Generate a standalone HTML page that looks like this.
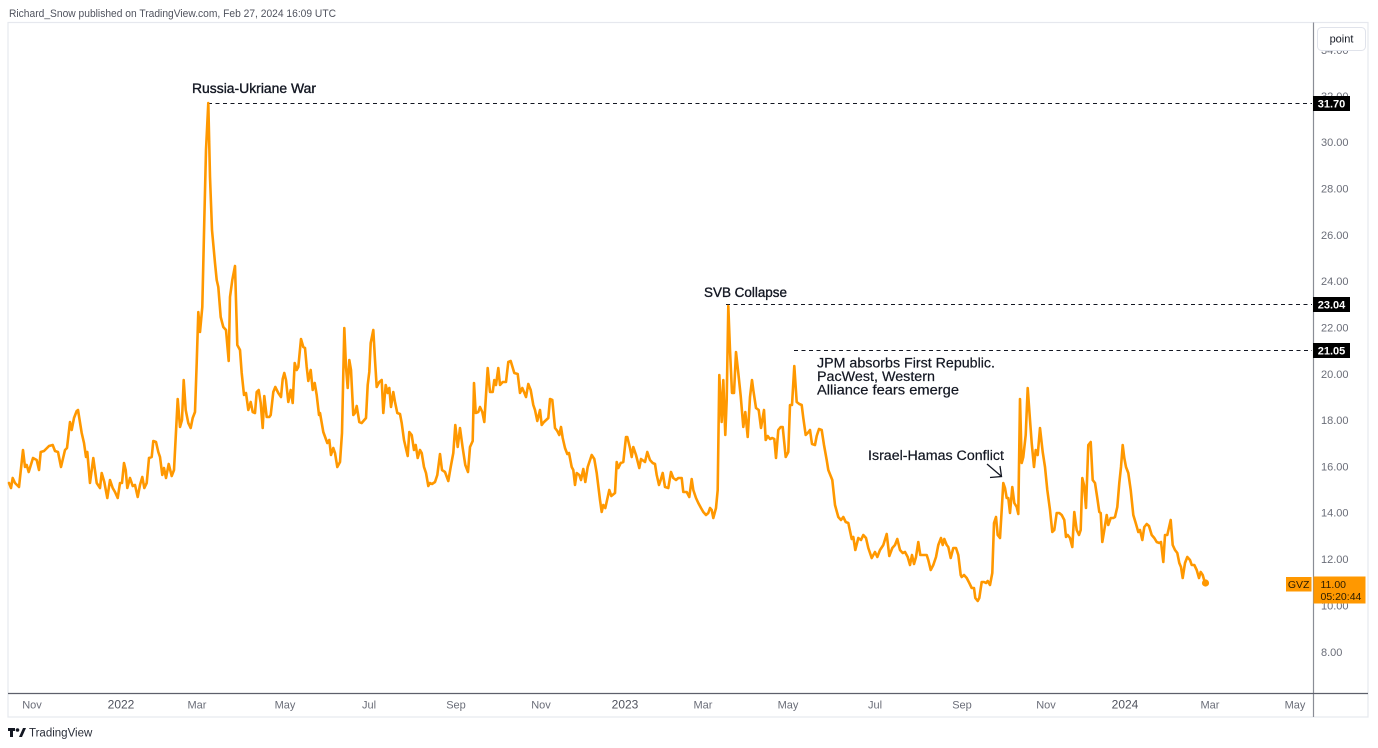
<!DOCTYPE html>
<html><head><meta charset="utf-8"><style>
html,body{margin:0;padding:0;background:#fff;}
svg{display:block;font-family:"Liberation Sans",Arial,sans-serif;}
</style></head><body>
<svg width="1378" height="748" viewBox="0 0 1378 748" xmlns="http://www.w3.org/2000/svg">
<rect width="1378" height="748" fill="#fff"/>
<text x="9" y="17" font-size="11" fill="#50535e" textLength="327" lengthAdjust="spacingAndGlyphs">Richard_Snow published on TradingView.com, Feb 27, 2024 16:09 UTC</text>
<!-- frame -->
<rect x="8" y="22.5" width="1360" height="694.5" fill="none" stroke="#e6e8ee" stroke-width="1.2"/>
<line x1="1313.5" y1="22.5" x2="1313.5" y2="717" stroke="#8a8d96" stroke-width="1.2"/>
<line x1="8" y1="693.5" x2="1368" y2="693.5" stroke="#5d606b" stroke-width="1.2"/>
<!-- y axis labels -->
<g font-size="11" fill="#6a6d78">
<text x="1321" y="54">34.00</text>
<text x="1321" y="100">32.00</text>
<text x="1321" y="146">30.00</text>
<text x="1321" y="192.5">28.00</text>
<text x="1321" y="239">26.00</text>
<text x="1321" y="285">24.00</text>
<text x="1321" y="331.5">22.00</text>
<text x="1321" y="378">20.00</text>
<text x="1321" y="424">18.00</text>
<text x="1321" y="470.5">16.00</text>
<text x="1321" y="516.5">14.00</text>
<text x="1321" y="563">12.00</text>
<text x="1321" y="609.5">10.00</text>
<text x="1321" y="656">8.00</text>
</g>
<rect x="1317.5" y="27.5" width="48" height="23" rx="4" fill="#fff" stroke="#e0e3eb"/>
<text x="1341.5" y="42.5" font-size="11" fill="#131722" text-anchor="middle">point</text>
<!-- x axis labels -->
<g font-size="11" fill="#6a6d78" text-anchor="middle">
<text x="32" y="708.5">Nov</text>
<text x="121" y="708.5" font-size="12" fill="#50535e">2022</text>
<text x="197" y="708.5">Mar</text>
<text x="285" y="708.5">May</text>
<text x="369" y="708.5">Jul</text>
<text x="456" y="708.5">Sep</text>
<text x="541" y="708.5">Nov</text>
<text x="625" y="708.5" font-size="12" fill="#50535e">2023</text>
<text x="703" y="708.5">Mar</text>
<text x="788" y="708.5">May</text>
<text x="875" y="708.5">Jul</text>
<text x="962" y="708.5">Sep</text>
<text x="1046" y="708.5">Nov</text>
<text x="1125" y="708.5" font-size="12" fill="#50535e">2024</text>
<text x="1210" y="708.5">Mar</text>
<text x="1295" y="708.5">May</text>
</g>
<!-- dashed lines -->
<g stroke="#131722" stroke-width="1" stroke-dasharray="4 3.5">
<line x1="208" y1="103.5" x2="1312" y2="103.5"/>
<line x1="726" y1="304.5" x2="1312" y2="304.5"/>
<line x1="794" y1="350.5" x2="1312" y2="350.5"/>
</g>
<!-- price tags -->
<rect x="1313" y="96" width="37" height="15" fill="#000"/>
<text x="1331.5" y="107.5" font-size="11" font-weight="bold" fill="#fff" text-anchor="middle">31.70</text>
<rect x="1313" y="297" width="37" height="15" fill="#000"/>
<text x="1331.5" y="308.5" font-size="11" font-weight="bold" fill="#fff" text-anchor="middle">23.04</text>
<rect x="1313" y="343" width="37" height="15" fill="#000"/>
<text x="1331.5" y="354.5" font-size="11" font-weight="bold" fill="#fff" text-anchor="middle">21.05</text>
<!-- annotations -->
<g font-size="13.5" fill="#131722">
<text x="192" y="93" stroke="#131722" stroke-width="0.35" textLength="124" lengthAdjust="spacingAndGlyphs">Russia-Ukriane War</text>
<text x="704" y="297" stroke="#131722" stroke-width="0.35" textLength="83" lengthAdjust="spacingAndGlyphs">SVB Collapse</text>
<text x="817" y="367.5" stroke="#131722" stroke-width="0.2" textLength="178" lengthAdjust="spacingAndGlyphs">JPM absorbs First Republic.</text>
<text x="817" y="381" stroke="#131722" stroke-width="0.2" textLength="118" lengthAdjust="spacingAndGlyphs">PacWest, Western</text>
<text x="817" y="394.5" stroke="#131722" stroke-width="0.2" textLength="142" lengthAdjust="spacingAndGlyphs">Alliance fears emerge</text>
<text x="868" y="460" stroke="#131722" stroke-width="0.2" textLength="136" lengthAdjust="spacingAndGlyphs">Israel-Hamas Conflict</text>
</g>
<g stroke="#131722" stroke-width="1.3" fill="none">
<line x1="987" y1="464" x2="1001" y2="476"/>
<polyline points="990,477.5 1001.5,476.5 1000,466"/>
</g>
<!-- series -->
<polyline fill="none" stroke="#ff9800" stroke-width="2.6" stroke-linejoin="round" stroke-linecap="round" points="
9,483 11,488 12.7,478 15,483 19,487 23,450 25,467 26.7,465 28.7,472 33,458 36.7,460 39,470 40.7,452 44,451 49,446 52.7,445 55,451 58,452 61,467 65,450 67,448 70,422 71.7,430 74,418 76.7,411 78,410 81.7,433 84,443 86,457 87.3,452 90,483 93.3,458 96.7,483 100,488 101.7,473 104.3,482 107.3,498 110,480 112.7,488 115,492 117.7,498 120,483 122,483 124,463 125.7,470 127.3,488 130,478 132.7,486 135,485 137.7,497 140,485 142.3,477 144.3,488 146.7,483 149,458 151.7,457 153.3,441 156,442 158.3,452 160,457 162.3,475 164,468 166,478 168.7,464 171.7,476 174,470 177.7,399 180,427 182,420 183.7,380 185.7,410 188.3,423 190.7,428 192.7,418 195,412 196.7,363 198.3,312 200,332 202.3,307 204.3,220 206,150 208.3,103 210,177 212,230 215,263 216.7,280 218.3,287 220.7,317 223.3,327 226,330 228.7,361 230,297 232.3,280 235,266 237.3,345 240,350 241.7,373 244,395 246,393 248.3,410 250.7,402 252.7,412 255,413 256.7,392 258.7,390 260.7,403 262.7,428 264.3,396 266.7,417 269.3,417 270.7,415 273.3,392 275.3,387 278.3,393 281,397 282.7,379 284.3,373 286,380 288.3,402 290.7,390 292.7,403 294.7,363 296.7,370 298.3,367 301,339 303.3,347 305,348 306.7,367 308.3,381 310.7,370 312.7,390 314.7,383 316.7,395 319,415
320,413 323.3,432 327.3,443 329.3,440 331,455 333.3,448 335,453 337.3,467 340,462 342,433 344.3,328 346,367 347.7,388 349.3,360 351,370 353.3,415 355,413 356.7,406 359.3,422 361.7,423 366,418 367.7,385 369.3,372 370.7,343 373.3,330 375,360 376.7,387 379.3,382 381.7,380 383.3,413 385.7,385 387.7,393 389.3,388 391,407 393.3,392 395,402 397.3,413 400,414 401.7,423 404,440 407.7,456 409.3,432 411.7,435 414,450 415.7,445 417.7,458 420,450 421.7,453 424,467 426,473 428.3,486 430,483 432,484 435,482 437.3,475 440,454 442,470 445,472 448.3,481 450.7,467 453.3,453 455.3,425 457.7,447 460,428 462.7,448 465.3,465 468,472 470,447 472.7,441 474,383 475.7,413 478.3,412 480,407 482.3,412 484.3,422 487.7,368 490,392 492.7,392 494.3,380 496,385 498.3,368 500,385 502.7,382 506,382 508.3,362 510.7,361 514.3,373 517.7,374 520,393 522.3,388 524,392 526,397 528.3,384 530.7,390 533.3,405 535,410 537.3,421 540,410 541.7,425 544,422 548.3,418 550,399 552.3,400 555,428 557.3,431 559.3,435 561,427 562.7,438 565,448 567.3,454 569,453 571.7,467 573.3,470 575,485 576.7,473 579.3,475 581,480 583.3,469 585.3,482 587.7,467 591.7,455 594.3,459 596.7,473 600,500 601.7,512 603.3,505 605.3,508 609.3,490 611.3,496 615,493 616.7,462 618.3,468 620.7,463 623.3,462 626,437 627.3,437 630,448 631.7,457 633.3,447 636,455 639.3,468
641,459 645,462 647.3,452 650,460 652.7,463 655,464 656.7,475 659,485 660.7,480 662.7,473 665,487 668.3,488 671,472 673.3,478 676,480 678.3,478 681.7,478 683.3,492 686.7,492 689.3,497 691.7,479 693.3,490 696,498 698.3,503 701,508 703.3,512 706,515 708.3,513 710,508 711.7,510 713.3,518 716,508 717.7,490 719.3,375 721.7,422 723.3,380 725.3,435 726.7,400 728.3,306 730,350 732,393 734,393 736,352 738.3,373 740.7,396 743.3,427 745.3,412 747.7,437 750,397 752,380 753.3,390 756,408 758.7,410 761,428 764,410 765.7,440 767.7,436 770,439 772.3,438 774.3,439 776,458 778.3,430 780.7,427 782.7,427 784.3,443 785.7,457 788.3,452 790,405 792,405 794.3,366 796.7,402 799.3,404 801.7,405 803.3,418 805.7,435 807.7,433 810,430 812,444 815,445 816.7,436 819,429 821.7,430 824,445 826.7,460 828.3,470 832.3,480 835,505 838.3,517 841,520 843.3,517 845.7,522 848.3,523 851.7,539 853.3,537 855.3,550 858.3,538 861,540 863.3,535 866,538 868.3,548 871.7,558 875,552 877.3,557 880,550 883.3,545 886.7,534 889.3,556 892.3,548 895,545 897.3,539 900,550 902.7,553 905,552 907.7,557 910,565 912,555 914,564 916,557 918.3,542 920.3,555 923.3,555 926.7,555 928.3,560 930.7,570 933.3,565 936,557 938.3,545 941,538 942.7,545 944.3,539 946.7,545 948.3,547 950.7,558 953.3,548 956,548 958.3,555 960.7,575
961.7,577 964,575 966.7,578 969.3,583 971.7,588 974,588 975.3,598 977.7,601 979.3,598 981.7,582 984,582 986,583 987.7,581 990,585 992.3,573 994,523 996,517 997.7,535 1000,538 1001.7,510 1003.3,483 1005,488 1006.7,498 1008.3,498 1010,513 1012.3,487 1014.3,503 1016.7,507 1018.3,514 1020,399 1021.7,463 1023.3,457 1025.7,435 1027.7,388 1030,420 1031.7,443 1034,467 1035.7,450 1037.7,455 1040,428 1042.7,452 1045,467 1047.3,490 1050,510 1052.3,532 1054.3,530 1056.7,513 1059.3,513 1061.7,515 1064.3,520 1066,537 1067.7,535 1070,538 1072.3,547 1074.3,512 1076.7,530 1079,535 1080.7,530 1082.3,478 1084,485 1086,508 1088.3,445 1090.7,442 1092.7,480 1095,483 1097.3,498 1099.3,512 1100.7,513 1102.3,542 1104.3,530 1106.7,515 1108.3,525 1110.7,518 1113.3,518 1115,517 1117.3,507 1119.3,483 1121,467 1122.7,445 1124.3,458 1126,467 1128.3,473 1130.7,490 1133.3,515 1135.7,523 1138.3,532 1140,530 1142.3,540 1144.3,527 1146.7,524 1149,526 1151.7,535 1154.3,538 1156.7,542 1159.3,543 1161,542 1163.3,562 1165,535 1167.3,535 1170.7,520 1172.7,545 1175,550 1177.3,553 1179.3,563 1181,567 1182.7,578 1185,563 1187.3,557 1190,560 1191.7,565 1194.3,565 1196.7,570 1199,578 1200.7,572 1202.7,575 1205,583"/>
<circle cx="1205.5" cy="583" r="3.6" fill="#ff9800"/>
<!-- GVZ tags -->
<rect x="1286" y="577" width="25.5" height="14.5" fill="#ff9800"/>
<text x="1298.7" y="588.2" font-size="10.5" fill="#2a1c00" text-anchor="middle">GVZ</text>
<rect x="1313.5" y="576.5" width="52" height="27" fill="#ff9800"/>
<text x="1320.5" y="588" font-size="10.5" fill="#2a1c00">11.00</text>
<text x="1320.5" y="600" font-size="10.5" fill="#2a1c00">05:20:44</text>
<!-- footer -->
<g fill="#131722">
<rect x="8" y="728" width="7" height="3"/>
<rect x="10" y="728" width="3" height="9"/>
<circle cx="17.5" cy="730" r="1.8"/>
<polygon points="19,737 23,728 26,728 22,737"/>
</g>
<text x="29" y="736.5" font-size="11.5" fill="#2a2e39">TradingView</text>
</svg>
</body></html>
